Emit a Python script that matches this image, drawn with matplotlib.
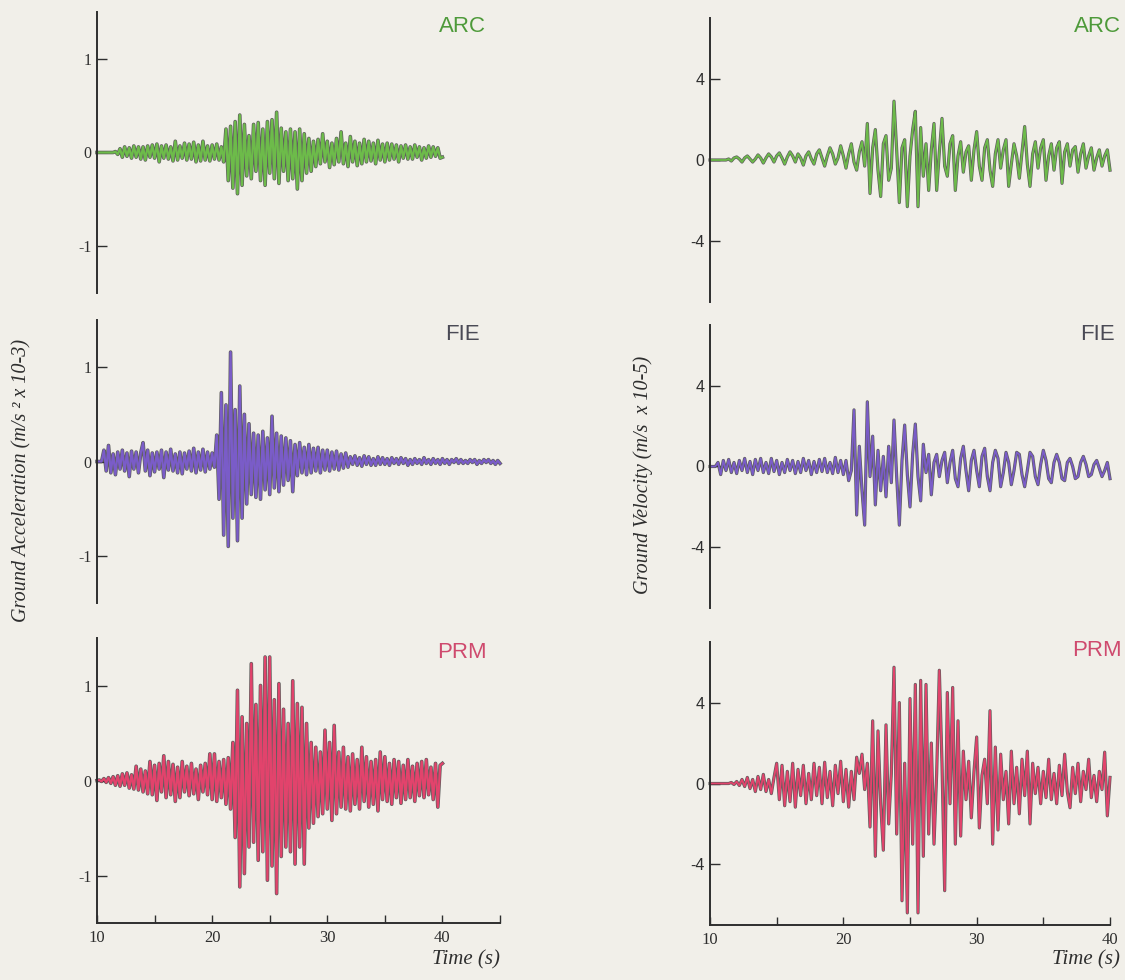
import numpy as np
import matplotlib
matplotlib.use("Agg")
import matplotlib.pyplot as plt
import matplotlib.patheffects as pe

# ---------------- data ----------------
T0 = 10.0
DT = 0.2
stations = ["ARC", "FIE", "PRM"]

# Ground acceleration (m/s^2 x 10-3), samples every 0.2 s from t = 10 s
arc_acc = [0, 0, 0, 0, 0, 0, 0, 0, 0.01, -0.02,
           0.04, -0.05, 0.06, -0.04, 0.05, -0.06, 0.07, -0.05, 0.06, -0.07,
           0.06, -0.08, 0.07, -0.05, 0.08, -0.06, 0.09, -0.10, 0.07, -0.06,
           0.08, -0.07, 0.06, -0.09, 0.12, -0.08, 0.07, -0.06, 0.10, -0.08,
           0.09, -0.07, 0.11, -0.10, 0.08, -0.09, 0.12, -0.08, 0.07, -0.09,
           0.08, -0.07, 0.09, -0.08, 0.06, -0.10, 0.25, -0.30, 0.28, -0.38,
           0.33, -0.44, 0.40, -0.35, 0.30, -0.25, 0.18, -0.28, 0.30, -0.20,
           0.32, -0.30, 0.25, -0.35, 0.33, -0.22, 0.35, -0.28, 0.43, -0.33,
           0.26, -0.20, 0.22, -0.30, 0.25, -0.28, 0.22, -0.39, 0.25, -0.30,
           0.20, -0.22, 0.15, -0.20, 0.12, -0.15, 0.14, -0.12, 0.20, -0.10,
           0.12, -0.16, 0.10, -0.13, 0.15, -0.10, 0.22, -0.12, 0.10, -0.15,
           0.17, -0.10, 0.12, -0.14, 0.10, -0.12, 0.14, -0.10, 0.12, -0.09,
           0.10, -0.12, 0.13, -0.08, 0.09, -0.10, 0.10, -0.08, 0.09, -0.07,
           0.08, -0.10, 0.07, -0.06, 0.08, -0.07, 0.06, -0.07, 0.08, -0.05,
           0.06, -0.08, 0.05, -0.06, 0.07, -0.05, 0.06, -0.04, 0.05, -0.06,
           -0.05]

fie_acc = [0, 0, 0, 0.12, -0.10, 0.17, -0.12, 0.08, -0.14, 0.10,
           -0.08, 0.12, -0.10, 0.09, -0.16, 0.11, -0.08, 0.10, -0.12, 0.09,
           0.20, -0.10, 0.12, -0.15, 0.09, -0.11, 0.10, -0.08, 0.12, -0.17,
           0.10, -0.09, 0.13, -0.10, 0.08, -0.12, 0.10, -0.13, 0.09, -0.08,
           0.11, -0.10, 0.14, -0.12, 0.10, -0.09, 0.13, -0.11, 0.10, -0.08,
           0.09, -0.06, 0.28, -0.40, 0.73, -0.78, 0.60, -0.90, 1.16, -0.60,
           0.55, -0.84, 0.80, -0.60, 0.50, -0.45, 0.40, -0.35, 0.30, -0.38,
           0.28, -0.40, 0.32, -0.30, 0.25, -0.35, 0.48, -0.28, 0.30, -0.32,
           0.27, -0.25, 0.25, -0.20, 0.22, -0.32, 0.18, -0.15, 0.20, -0.12,
           0.15, -0.14, 0.18, -0.12, 0.14, -0.10, 0.15, -0.12, 0.12, -0.09,
           0.12, -0.10, 0.10, -0.08, 0.11, -0.09, 0.08, -0.07, 0.09, -0.06,
           0.05, -0.03, 0.06, -0.04, 0.04, -0.05, 0.06, -0.03, 0.05, -0.04,
           0.03, -0.04, 0.05, -0.03, 0.04, -0.03, 0.03, -0.04, 0.04, -0.02,
           0.03, -0.03, 0.04, -0.02, 0.03, -0.04, 0.02, -0.03, 0.03, -0.02,
           0.02, -0.03, 0.04, -0.02, 0.02, -0.03, 0.03, -0.02, 0.02, -0.03,
           0.03, -0.02, 0.02, -0.03, 0.02, -0.01, 0.03, -0.02, 0.02, -0.02,
           0.01, -0.02, 0.02, -0.01, 0.02, -0.03, 0.01, -0.02, 0.02, -0.01,
           0.02, -0.02, 0.01, -0.03, 0.01, -0.02]

prm_acc = [0, 0.005, -0.01, 0.02, -0.02, 0.03, -0.03, 0.04, -0.05, 0.05,
           -0.06, 0.07, -0.05, 0.08, -0.08, 0.06, -0.09, 0.15, -0.10, 0.12,
           -0.12, 0.10, -0.14, 0.20, -0.15, 0.16, -0.21, 0.18, -0.12, 0.26,
           -0.18, 0.20, -0.15, 0.17, -0.22, 0.14, -0.18, 0.20, -0.12, 0.15,
           -0.16, 0.18, -0.14, 0.12, -0.20, 0.16, -0.12, 0.18, -0.15, 0.28,
           -0.20, 0.28, -0.22, 0.20, -0.18, 0.22, -0.25, 0.24, -0.30, 0.40,
           -0.60, 0.95, -1.12, 0.67, -0.98, 0.60, -0.70, 1.23, -0.65, 0.80,
           -0.84, 1.00, -0.75, 1.30, -1.05, 1.30, -0.90, 0.85, -1.19, 1.02,
           -0.80, 0.75, -0.70, 0.60, -0.75, 1.05, -0.88, 0.81, -0.70, 0.77,
           -0.88, 0.60, -0.50, 0.40, -0.45, 0.35, -0.38, 0.30, -0.35, 0.53,
           -0.30, 0.40, -0.42, 0.58, -0.35, 0.30, -0.28, 0.35, -0.30, 0.25,
           -0.32, 0.28, -0.25, 0.22, -0.30, 0.35, -0.22, 0.25, -0.28, 0.20,
           -0.25, 0.22, -0.32, 0.30, -0.20, 0.25, -0.22, 0.18, -0.25, 0.22,
           -0.18, 0.20, -0.24, 0.16, -0.20, 0.22, -0.18, 0.15, -0.22, 0.18,
           -0.16, 0.20, -0.18, 0.22, -0.15, 0.14, -0.20, 0.18, -0.28, 0.16,
           0.18]

# Ground velocity (m/s x 10-5), samples every 0.2 s from t = 10 s
arc_vel = [0, 0, 0, 0, 0, 0, 0, 0.05, -0.05, 0.1,
           0.15, 0.05, -0.1, 0.1, 0.2, 0.05, -0.1, 0.05, 0.25, 0.1,
           -0.15, 0.1, 0.3, 0.15, -0.1, 0.2, 0.35, 0.1, -0.2, 0.15,
           0.4, 0.2, -0.1, 0.3, 0.1, -0.25, 0.2, 0.4, 0.05, -0.2,
           0.3, 0.5, 0.1, -0.3, 0.2, 0.6, 0.3, -0.2, 0.1, 0.7,
           0.2, -0.4, 0.3, 0.8, -0.1, -0.5, 0.4, 0.9, -0.3, 1.8,
           -1.65, 0.6, 1.5, -0.5, -1.8, 0.8, 1.2, -1.0, -0.4, 2.9,
           0.5, -2.1, 0.6, 1.0, -2.3, 0.2, 1.5, 2.4, -2.3, 1.6,
           -0.8, 0.8, -1.5, 0.5, 1.8, -1.5, 0.4, 2.05, -0.3, -0.8,
           0.8, 1.2, -1.5, 0.2, 0.9, -0.6, 0.4, 0.7, -1.0, 0.5,
           1.4, -0.3, -1.0, 0.6, 1.0, -0.5, -1.3, 0.3, 1.0, -0.4,
           0.5, 1.0, -1.3, -0.2, 0.8, 0.2, -0.9, 0.4, 1.65, -0.2,
           -1.3, 0.3, 0.9, -0.4, 0.6, 1.0, -1.0, 0.2, 0.8, -0.5,
           0.6, 0.9, -1.15, 0.4, 0.8, -0.3, 0.5, 0.66, -0.6, 0.3,
           0.8, -0.4, 0.2, 0.6, -0.5, 0.1, 0.5, -0.3, 0.2, 0.5,
           -0.5]

fie_vel = [0, 0, 0, 0.2, -0.4, 0.3, -0.2, 0.35, -0.3, 0.2,
           -0.35, 0.3, -0.2, 0.4, -0.3, 0.25, -0.4, 0.35, -0.2, 0.4,
           -0.3, 0.2, -0.35, 0.4, -0.25, 0.3, -0.4, 0.2, -0.3, 0.35,
           -0.2, 0.3, -0.35, 0.25, -0.3, 0.4, -0.2, 0.3, -0.4, 0.25,
           -0.3, 0.35, -0.25, 0.4, -0.3, 0.2, -0.35, 0.45, -0.3, 0.3,
           -0.4, 0.3, -0.7, -0.2, 2.8, -2.4, 1.0, -1.2, -2.9, 3.2,
           -0.5, 1.5, -1.9, 0.8, -1.2, 0.5, -1.5, 1.0, -0.8, 2.3,
           -0.5, -2.9, 0.3, 2.05, -0.4, -2.0, 0.6, 2.1, -0.5, -1.7,
           1.1, -0.3, 0.6, -1.4, 0.2, 0.6, -0.5, 0.3, 0.7, -0.8,
           0.2, 0.8, -0.6, -1.0, 0.4, 1.0, -0.2, -1.2, 0.3, 0.8,
           -0.2, -1.0, 0.5, 0.9, -0.5, -1.2, 0.2, 0.8, 0.4, -1.0,
           -0.3, 0.7, 0.2, -0.9, -0.2, 0.7, 0.6, -0.4, -1.0, -0.2,
           0.7, 0.5, -0.5, -0.9, 0.1, 0.8, 0.3, -0.6, -0.8, 0.2,
           0.6, 0.2, -0.6, -0.7, 0.2, 0.4, 0.0, -0.6, -0.5, 0.2,
           0.5, 0.1, -0.5, -0.4, 0.1, 0.3, -0.1, -0.5, -0.2, 0.2,
           -0.6]

prm_vel = [0, 0, 0, 0, 0, 0, 0, 0, 0.05, -0.05,
           0.1, -0.1, 0.2, -0.15, 0.3, -0.25, 0.2, -0.4, 0.35, -0.3,
           0.45, -0.4, 0.2, -0.5, 0.3, 1.0, -0.8, 0.9, -1.1, 0.6,
           -0.9, 1.0, -1.17, 0.7, -0.6, 0.9, -1.0, 0.5, -0.8, 1.0,
           -0.6, 0.8, -1.0, 1.05, -0.7, 0.6, -1.1, 0.9, -0.5, 1.1,
           -0.9, 0.7, -1.17, 0.6, -0.8, 1.3, 0.5, 1.45, -0.3, 1.0,
           -2.15, 3.1, -3.6, 2.6, -1.0, -3.3, 2.9, -2.0, 0.5, 5.75,
           -2.5, 4.0, -5.8, 1.0, -6.4, 4.2, -3.0, 4.9, -6.4, 5.1,
           -3.6, 4.9, -2.5, 2.0, -3.0, 0.5, 5.6, 1.0, -5.3, 4.5,
           -1.0, 4.75, -3.0, 3.1, -2.6, 1.6, -0.8, 1.1, -1.7, 0.6,
           2.3, -2.2, 0.4, 1.2, -1.0, 3.6, -3.0, 1.8, -2.3, 1.45,
           -0.8, 0.6, -2.0, 1.6, -1.0, 0.8, -1.5, 1.2, -0.6, 1.6,
           -2.0, 1.0, -0.5, 0.8, -1.0, 0.6, -0.7, 1.2, -0.8, 0.5,
           -1.0, 0.9, -0.6, 1.45, -0.4, -1.2, 0.8, -0.5, 1.0, -0.9,
           0.6, -0.3, 1.2, -0.7, 0.4, -0.9, 0.6, -0.3, 1.55, -1.6,
           0.3]

acc_traces = [arc_acc, fie_acc, prm_acc]
vel_traces = [arc_vel, fie_vel, prm_vel]

acc_ticks = [-1, 0, 1]
vel_ticks = [-4, 0, 4]
xticklabels = [10, 20, 30, 40]

# ---------------- styling ----------------
W, H = 1125, 980
BG = "#f1efe9"
trace_colors = ["#6dbb4a", "#7a5cc8", "#e2436c"]
label_colors = ["#4e9a3a", "#4a4a55", "#cf4a6e"]
INK = "#2e2e2e"
SERIF = ["Liberation Serif", "DejaVu Serif"]
SANS = ["Liberation Sans", "DejaVu Sans"]

fig = plt.figure(figsize=(W / 100, H / 100), dpi=100, facecolor=BG)


def px_axes(x0, x1, y0, y1):
    return fig.add_axes([x0 / W, 1 - y1 / H, (x1 - x0) / W, (y1 - y0) / H])


left_rows = [(12, 293), (320, 603), (638, 923)]
right_rows = [(18, 302), (325, 608), (642, 925)]


def style(ax, xlim, ylim, yticks, ytick_font, bottom, xmaj):
    ax.set_facecolor("none")
    ax.set_xlim(*xlim)
    ax.set_ylim(*ylim)
    for s in ["top", "right"]:
        ax.spines[s].set_visible(False)
    ax.spines["left"].set_color(INK)
    ax.spines["left"].set_linewidth(1.4)
    ax.set_yticks(yticks)
    ax.set_yticklabels([str(v) for v in yticks], fontfamily=ytick_font, fontsize=11.5, color=INK)
    ax.tick_params(axis="y", direction="in", length=7, width=1.0, color=INK, pad=4)
    if bottom:
        ax.spines["bottom"].set_color(INK)
        ax.spines["bottom"].set_linewidth(1.4)
        ax.set_xticks(xmaj)
        ax.set_xticklabels([str(v) if v in xticklabels else "" for v in xmaj],
                           fontfamily=SERIF, fontsize=12, color=INK)
        ax.tick_params(axis="x", direction="in", length=6, width=1.0, color=INK, pad=5)
    else:
        ax.spines["bottom"].set_visible(False)
        ax.set_xticks([])


outline_acc = [pe.Stroke(linewidth=2.6, foreground="#3a3a3a", alpha=0.8), pe.Normal()]
outline_vel = [pe.Stroke(linewidth=2.3, foreground="#3a3a3a", alpha=0.8), pe.Normal()]

# Left column: acceleration
for i, ((y0, y1), vals) in enumerate(zip(left_rows, acc_traces)):
    ax = px_axes(97, 500, y0, y1)
    t = T0 + DT * np.arange(len(vals))
    ax.plot(t, vals, color=trace_colors[i], lw=1.6, path_effects=outline_acc,
            solid_joinstyle="round", clip_on=False)
    style(ax, (10, 45), (-1.5, 1.5), acc_ticks, SERIF, i == 2, [10, 15, 20, 25, 30, 35, 40, 45])
    fig.text(462 / W, 1 - (y0 + 14) / H, stations[i], ha="center", va="center",
             fontfamily=SANS, fontsize=16, color=label_colors[i])

# Right column: velocity
for i, ((y0, y1), vals) in enumerate(zip(right_rows, vel_traces)):
    ax = px_axes(710, 1110, y0, y1)
    t = T0 + DT * np.arange(len(vals))
    ax.plot(t, vals, color=trace_colors[i], lw=1.3, path_effects=outline_vel,
            solid_joinstyle="round", clip_on=False)
    style(ax, (10, 40), (-7, 7), vel_ticks, SANS, i == 2, [10, 15, 20, 25, 30, 35, 40])
    fig.text(1097 / W, 1 - (y0 + 9) / H, stations[i], ha="center", va="center",
             fontfamily=SANS, fontsize=16, color=label_colors[i])

# Axis titles
fig.text(22 / W, 1 - 480 / H, "Ground Acceleration (m/s ² x 10-3)", rotation=90,
         ha="center", va="center", fontfamily=SERIF, fontstyle="italic", fontsize=14.5, color=INK)
fig.text(643 / W, 1 - 475 / H, "Ground Velocity (m/s  x 10-5)", rotation=90,
         ha="center", va="center", fontfamily=SERIF, fontstyle="italic", fontsize=14.5, color=INK)
fig.text(500 / W, 1 - 960 / H, "Time (s)", ha="right", va="center",
         fontfamily=SERIF, fontstyle="italic", fontsize=15, color=INK)
fig.text(1120 / W, 1 - 960 / H, "Time (s)", ha="right", va="center",
         fontfamily=SERIF, fontstyle="italic", fontsize=15, color=INK)

fig.savefig("out.png", dpi=100, facecolor=BG)
